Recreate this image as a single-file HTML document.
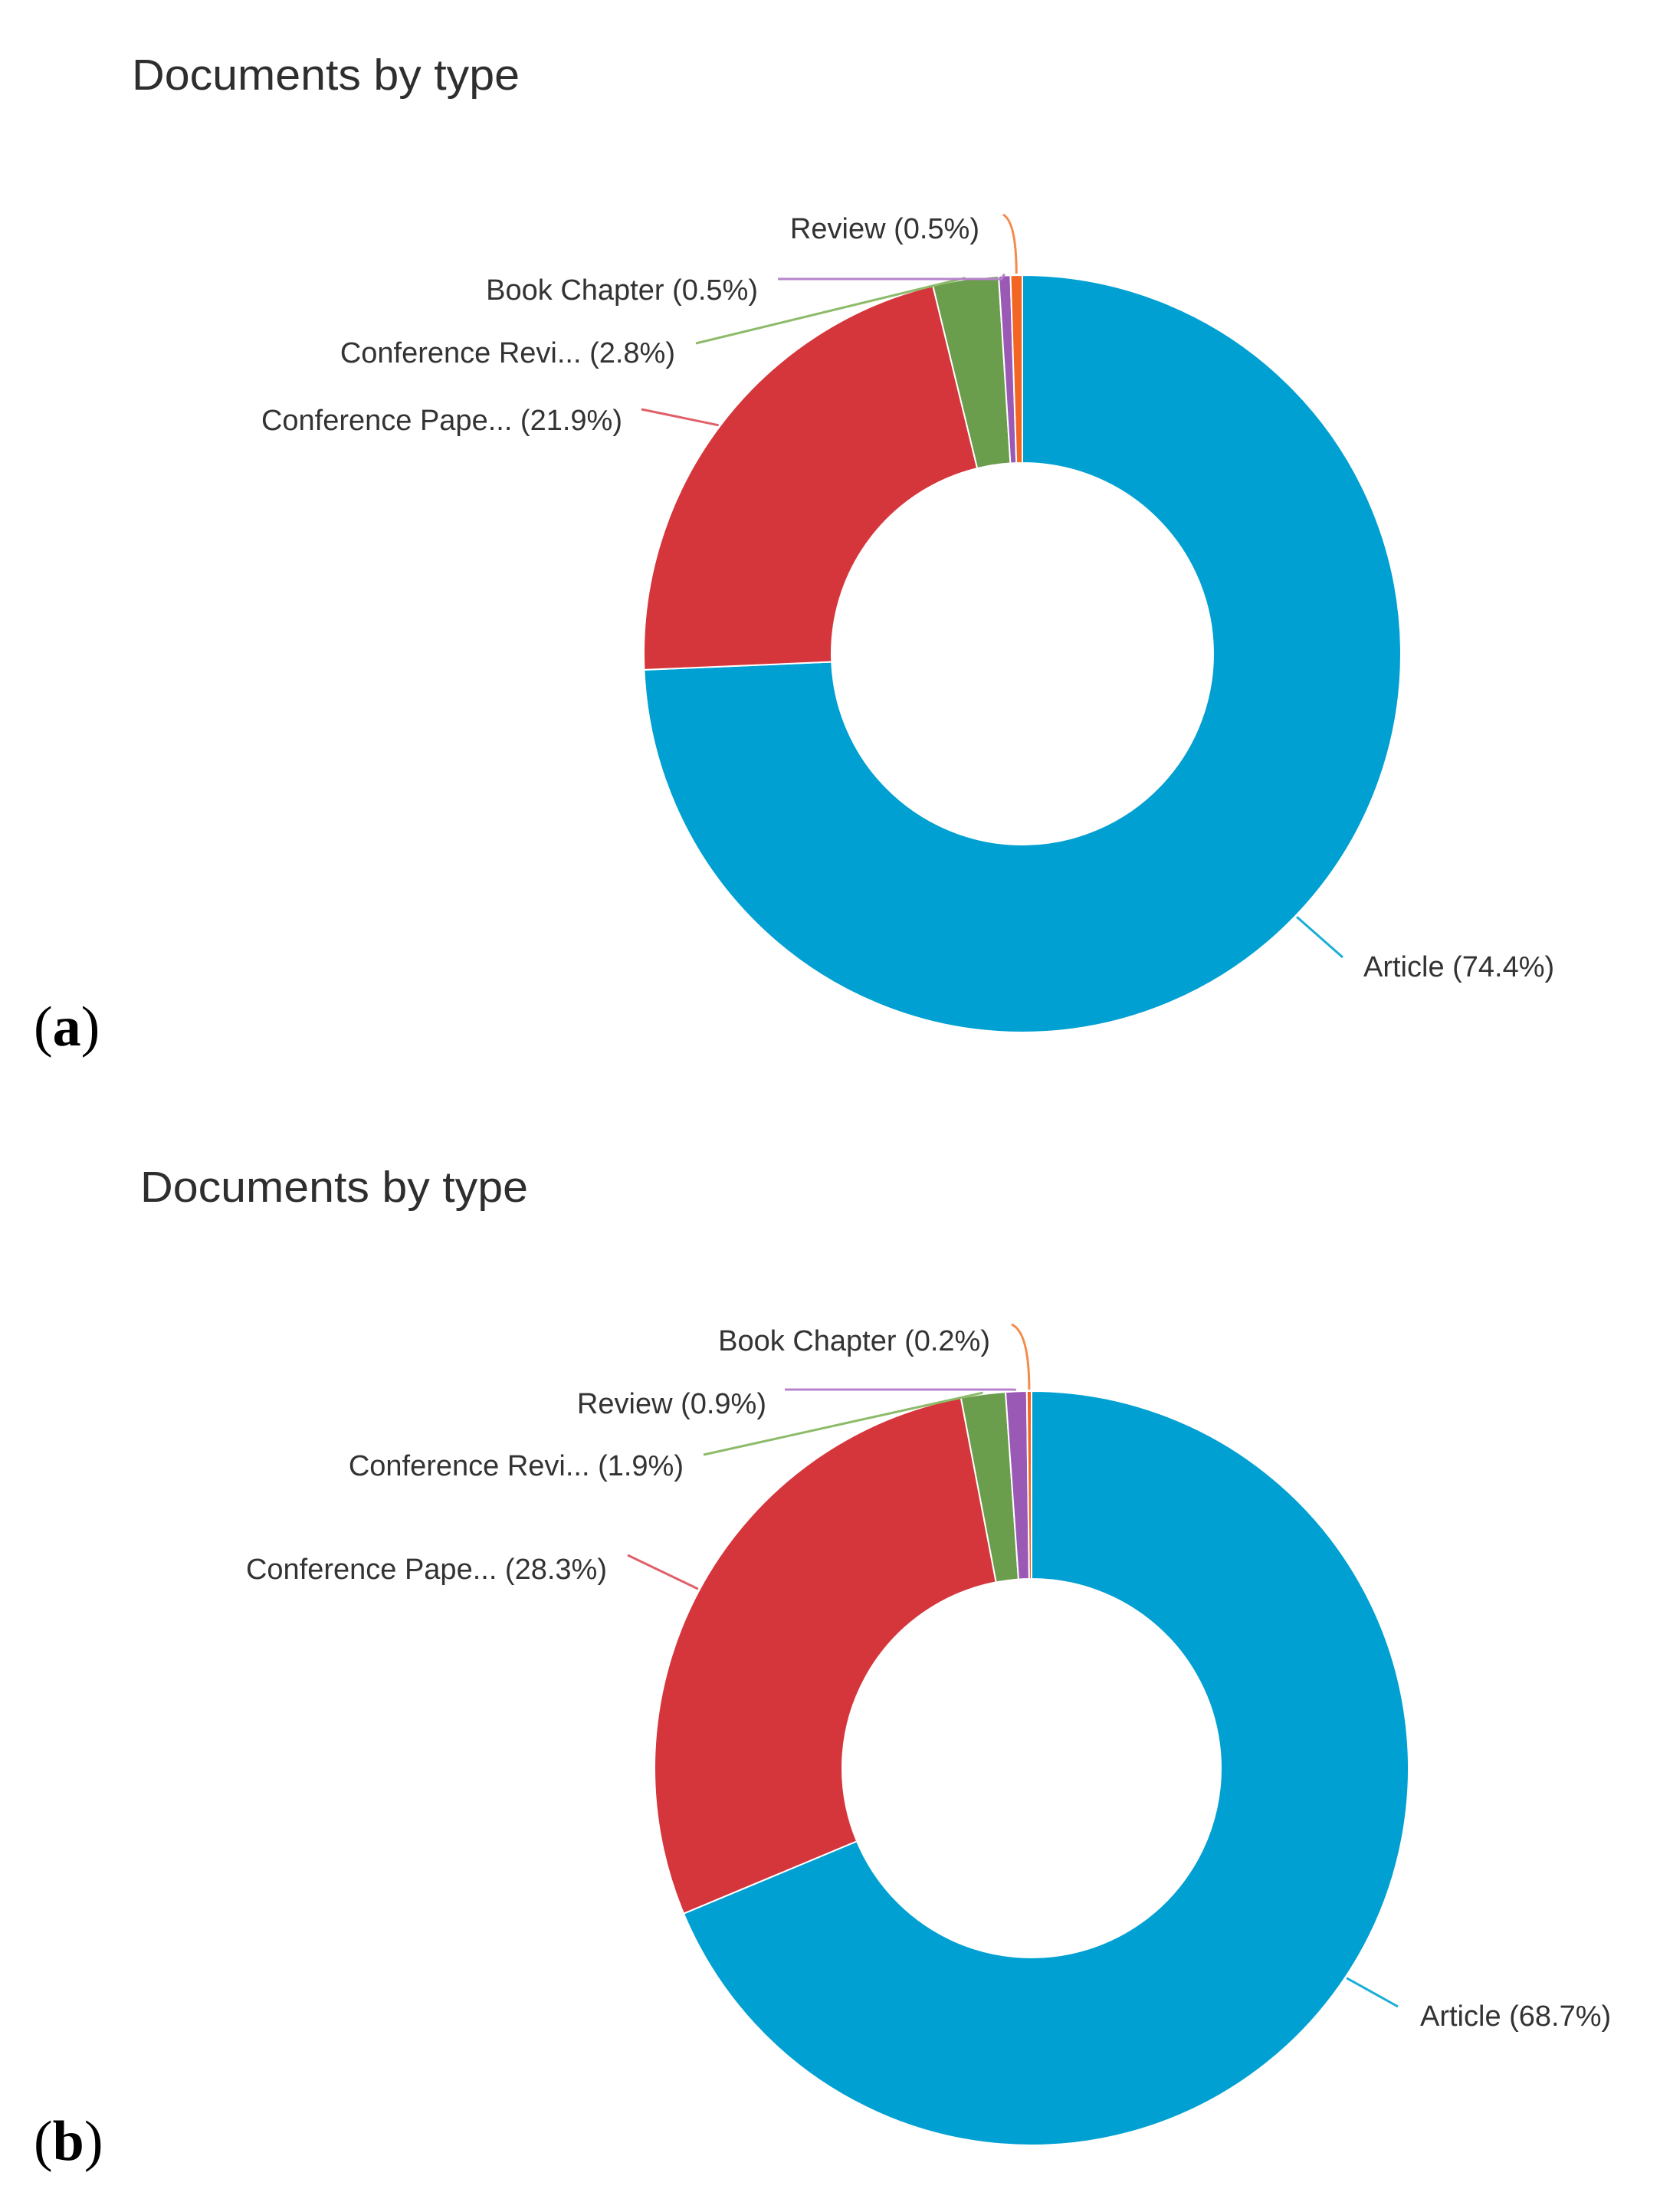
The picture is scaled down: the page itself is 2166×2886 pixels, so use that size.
<!DOCTYPE html>
<html><head><meta charset="utf-8"><style>
html,body{margin:0;padding:0;background:#fff}
svg{display:block}
</style></head><body>
<svg id="svg" width="2166" height="2886" viewBox="0 0 2166 2886" font-family="Liberation Sans, sans-serif">
<text x="172" y="117" font-size="57" fill="#2e2e2e" textLength="506" lengthAdjust="spacingAndGlyphs">Documents by type</text>
<text x="183" y="1568" font-size="57" fill="#2e2e2e" textLength="506" lengthAdjust="spacingAndGlyphs">Documents by type</text>
<text x="44" y="1364" font-size="74" style="font-family:'Liberation Serif',serif" fill="#000">(<tspan font-weight="bold">a</tspan>)</text>
<text x="44" y="2818" font-size="74" style="font-family:'Liberation Serif',serif" fill="#000">(<tspan font-weight="bold">b</tspan>)</text>
<g id="ga"></g><g id="gb"></g>
</svg>
<script>
const categoriesA = ["Article","Conference Pape...","Conference Revi...","Book Chapter","Review"];
const valuesA = [74.4,21.9,2.8,0.5,0.5];
const categoriesB = ["Article","Conference Pape...","Conference Revi...","Review","Book Chapter"];
const valuesB = [68.7,28.3,1.9,0.9,0.2];
const colors = ["#00a0d2","#d5363c","#6a9e4c","#9b59b6","#f26522"];
const leaderColors = ["#1aaed8","#e0606a","#8dbb6a","#b783cc","#f58a4a"];

function draw(g, cats, vals, cx, cy, R, r, labels, tag){
  const ns="http://www.w3.org/2000/svg";
  const total = vals.reduce((a,b)=>a+b,0);
  const ang = v => v/total*2*Math.PI;
  const pt = (a,rad)=>[cx+rad*Math.sin(a), cy-rad*Math.cos(a)];
  let a0=0;
  vals.forEach((v,i)=>{
    const a1=a0+ang(v);
    const large=(a1-a0)>Math.PI?1:0;
    const p1=pt(a0,R),p2=pt(a1,R),p3=pt(a1,r),p4=pt(a0,r);
    const p=document.createElementNS(ns,"path");
    p.setAttribute("d",`M${p1}A${R},${R} 0 ${large} 1 ${p2}L${p3}A${r},${r} 0 ${large} 0 ${p4}Z`);
    p.setAttribute("fill",colors[i]);
    p.setAttribute("stroke","#fff");
    p.setAttribute("stroke-width","2");
    
    
    g.appendChild(p);
    const L=labels[i];
    const mid=(a0+a1)/2;
    const e=pt(mid,R+2);
    const ln=document.createElementNS(ns,"path");
    let d;
    if(L.curve){ d=`M${L.lx},${L.ly}Q${e[0]},${L.ly+10} ${e[0]},${e[1]}`; }
    else if(L.flat){ d=`M${L.lx},${L.ly}L${e[0]-4},${L.ly}L${e[0]},${e[1]}`; }
    else d=`M${L.lx},${L.ly}L${e[0]},${e[1]}`;
    ln.setAttribute("d",d);
    ln.setAttribute("fill","none");
    ln.setAttribute("stroke",leaderColors[i]);
    ln.setAttribute("stroke-width","3");
    
    
    g.appendChild(ln);
    const t=document.createElementNS(ns,"text");
    t.setAttribute("x",L.tx);t.setAttribute("y",L.ty);
    t.setAttribute("font-size","38");t.setAttribute("fill","#333");
    t.setAttribute("text-anchor",L.anchor);
    t.textContent=cats[i]+" ("+vals[i]+"%)";
    
    
    g.appendChild(t);
    a0=a1;
  });
}
draw(document.getElementById("ga"),categoriesA,valuesA,1334,853,494,249,[
 {tx:1779,ty:1274,anchor:"start",lx:1752,ly:1249},
 {tx:812,ty:561,anchor:"end",lx:837,ly:534},
 {tx:881,ty:473,anchor:"end",lx:908,ly:448},
 {tx:989,ty:391,anchor:"end",lx:1015,ly:364,flat:true},
 {tx:1278,ty:311,anchor:"end",lx:1309,ly:280,curve:true}
],"a");
draw(document.getElementById("gb"),categoriesB,valuesB,1346,2307,492,247,[
 {tx:1853,ty:2643,anchor:"start",lx:1824,ly:2618},
 {tx:792,ty:2060,anchor:"end",lx:819,ly:2029},
 {tx:892,ty:1925,anchor:"end",lx:918,ly:1898},
 {tx:1000,ty:1844,anchor:"end",lx:1024,ly:1813,flat:true},
 {tx:1292,ty:1762,anchor:"end",lx:1320,ly:1728,curve:true}
],"b");
</script>
</body></html>
